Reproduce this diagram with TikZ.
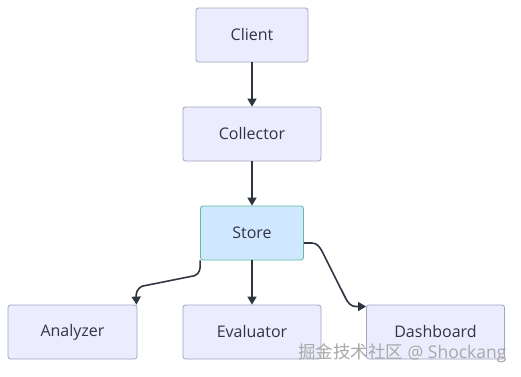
\documentclass[tikz,border=0pt]{standalone}
\usepackage{fontspec}
\setmainfont{Open Sans}
\newfontfamily\cjkfont{Noto Sans CJK SC}
\usetikzlibrary{arrows.meta}
\definecolor{nodefill}{HTML}{ECECFF}
\definecolor{nodeline}{HTML}{A3A3C2}
\definecolor{storefill}{HTML}{D0E8FF}
\definecolor{storeline}{HTML}{5BBF9A}
\definecolor{edgecol}{HTML}{2E3440}
\definecolor{txtcol}{HTML}{333344}
\definecolor{wmcol}{HTML}{A8A8A8}
\begin{document}
\begin{tikzpicture}[x=1pt,y=-1pt,
  box/.style={draw=nodeline,fill=nodefill,rounded corners=2.5pt,line width=0.8pt,
    text=txtcol,font=\fontsize{16}{19}\selectfont,inner sep=0pt},
  storebox/.style={box,draw=storeline,fill=storefill},
  conn/.style={draw=edgecol,line width=1.6pt,-{Triangle[length=8pt,width=9pt]}}]
\useasboundingbox[fill=white] (0,0) rectangle (521,376);
\node[box,minimum width=112pt,minimum height=54pt] (client) at (252,35) {\raisebox{1pt}{Client}};
\node[box,minimum width=138pt,minimum height=54pt] (collector) at (252,134) {\raisebox{1pt}{Collector}};
\node[storebox,minimum width=103pt,minimum height=54pt] (store) at (252,233) {\raisebox{1pt}{Store}};
\node[box,minimum width=129pt,minimum height=54pt] (analyzer) at (72.5,332) {\raisebox{1pt}{Analyzer}};
\node[box,minimum width=138pt,minimum height=54pt] (evaluator) at (252,332) {\raisebox{1pt}{Evaluator}};
\node[box,minimum width=138pt,minimum height=54pt] (dashboard) at (435.5,332) {\raisebox{1pt}{Dashboard}};
\draw[conn] (client) -- (collector);
\draw[conn] (collector) -- (store);
\draw[conn] (store) -- (evaluator);
\draw[conn] (store.south west) -- ++(0,7) to[out=270,in=0] ++(-9,9) -- ++(-45,9)
  to[out=180,in=90] ++(-10,10) -- (analyzer.north east -| 136.5,0);
\draw[conn] (store.east |- 0,243) -- ++(8,0) to[out=0,in=120] ++(10,8) -- (346,299)
  to[out=300,in=180] ++(10,7.5) -- (dashboard.west |- 0,306.5);
\node[font=\fontsize{17.5}{20}\selectfont,text=wmcol,anchor=east] (wm) at (510,353)
  {{\cjkfont 掘金技术社区} @ Shockang};
\end{tikzpicture}
\end{document}
